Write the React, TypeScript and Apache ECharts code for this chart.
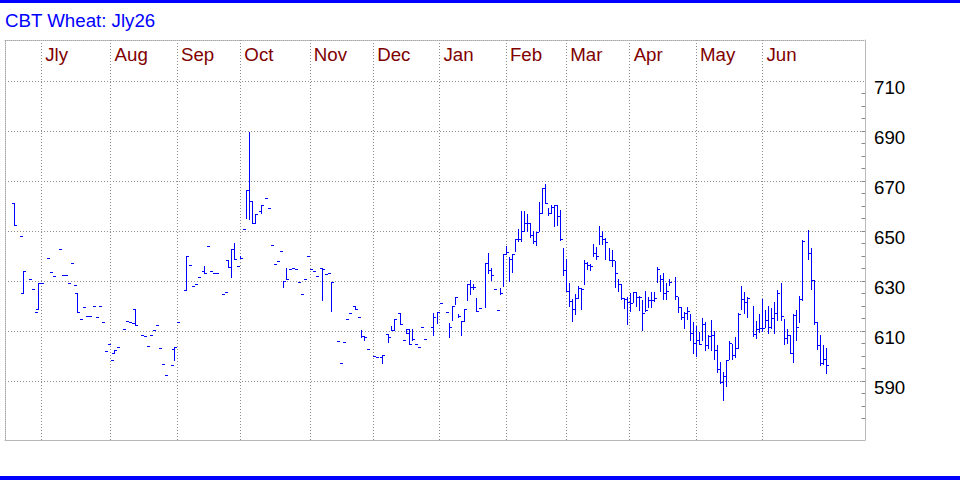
import { useEffect, useRef } from "react";
import * as echarts from "echarts";

const TITLE = "CBT Wheat: Jly26";
const monthNames = ["Jly", "Aug", "Sep", "Oct", "Nov", "Dec", "Jan", "Feb", "Mar", "Apr", "May", "Jun"];
const monthStartDay = [12, 35, 57, 78, 101, 122, 144, 166, 186, 207, 229, 251];
const slotCount = 286;
const priceMin = 566.4;
const priceMax = 726.4;
const priceTicks = [590, 610, 630, 650, 670, 690, 710];
const minorPriceTicks = [575, 580, 585, 590, 595, 600, 605, 610, 615, 620, 625, 630, 635, 640, 645, 650, 655, 660, 665, 670, 675, 680, 685, 690, 695, 700, 705];

const barDay = [
  3, 5, 6, 8, 9, 10, 11, 12, 14, 15,
  16, 18, 19, 20, 21, 22, 23, 24, 25, 26,
  27, 28, 29, 30, 31, 32, 33, 34, 35, 36,
  37, 39, 40, 41, 42, 43, 45, 46, 47, 48,
  49, 50, 51, 52, 53, 55, 56, 57, 60, 61,
  62, 63, 64, 66, 67, 68, 69, 70, 72, 73,
  74, 75, 76, 77, 78, 79, 80, 81, 82, 83,
  85, 86, 87, 88, 89, 90, 91, 92, 93, 94,
  95, 96, 97, 98, 99, 100, 101, 102, 103, 105,
  106, 107, 108, 110, 111, 112, 113, 114, 116, 117,
  118, 119, 120, 122, 123, 125, 127, 128, 129, 131,
  132, 133, 134, 135, 136, 137, 138, 139, 142, 143,
  144, 146, 147, 148, 149, 150, 151, 152, 153, 154,
  155, 156, 157, 159, 160, 161, 162, 163, 164, 165,
  166, 167, 168, 169, 170, 171, 172, 173, 174, 175,
  176, 177, 178, 179, 180, 181, 182, 183, 184, 185,
  186, 187, 188, 189, 190, 191, 192, 193, 194, 195,
  196, 197, 198, 199, 200, 201, 202, 203, 204, 205,
  206, 207, 208, 209, 210, 211, 212, 213, 214, 215,
  216, 217, 218, 219, 220, 222, 223, 224, 225, 226,
  227, 228, 229, 230, 231, 232, 233, 234, 235, 236,
  237, 238, 239, 240, 241, 242, 243, 244, 245, 246,
  248, 249, 250, 251, 252, 253, 254, 255, 256, 257,
  258, 259, 260, 261, 262, 263, 264, 266, 267, 268,
  269, 270, 271, 272,
];

const barHigh = [
  661, 648, 634, 630.7, 626.7, 617.5, 629.1, 629.1, 639.1, 633.5,
  631.9, 642.7, 632.3, 632.3, 629.1, 637.1, 628.3, 625.1, 614.7, 619.5,
  615.9, 615.9, 619.9, 615.5, 619.9, 613.5, 601.9, 604.7, 598.3, 602.3,
  603.5, 610.7, 613.9, 613.5, 613.1, 618.7, 608.3, 607.9, 603.9, 608.3,
  610.3, 612.3, 603.1, 596.7, 592.3, 596.3, 603.5, 613.5, 639.9, 636.3,
  627.9, 628.7, 631.5, 635.9, 643.9, 633.9, 633.1, 633.1, 624.7, 625.5,
  638.3, 642.7, 645.2, 636, 639.9, 650.7, 666.3, 689.7, 662, 656.7,
  660.3, 663.1, 659.1, 644.3, 636.7, 637.9, 641.9, 629.9, 635.1, 634.7,
  635.1, 634.7, 629.5, 624.8, 630.7, 639.9, 634.7, 633.9, 631.9, 635.1,
  632.7, 633.1, 629.5, 606, 597.1, 605.5, 614.7, 617.1, 619.9, 615.5,
  610.3, 607.9, 602.7, 599.9, 599.5, 600.3, 608.7, 611.9, 614.7, 617.1,
  606.3, 610.7, 610.7, 610.7, 604.7, 603.5, 611.5, 606.7, 617.1, 617.5,
  621.1, 617.5, 613.1, 619.9, 623.5, 616.7, 613.9, 618.7, 628.7, 630.3,
  628.7, 623.1, 619.1, 637.1, 641.1, 635.1, 626.7, 618.3, 627.1, 640.7,
  643.9, 639.5, 640.7, 646.7, 650.7, 657.9, 657.9, 656.7, 653.1, 649.9,
  649.5, 661.5, 667.1, 668.7, 659.1, 660.3, 660.3, 660.3, 658.3, 643.1,
  638.7, 629.1, 622.7, 624.7, 627.9, 627.1, 638.3, 637.5, 636.7, 644.7,
  643.5, 651.9, 649.9, 647.1, 643.1, 642.3, 637.9, 630.7, 628.7, 623.1,
  623.5, 625.1, 625.5, 625.5, 623.9, 622.3, 625.9, 623.5, 625.5, 625.5,
  635.5, 632.3, 633.1, 629.1, 630.7, 631.5, 623.5, 619.5, 617.5, 619.5,
  616.7, 613.5, 611.9, 609.5, 615.1, 613.5, 608.3, 614.3, 609.9, 604.3,
  597.5, 593.5, 598.3, 605.9, 604.7, 607.5, 617.1, 627.9, 625.5, 623.5,
  619.9, 613.9, 616.7, 622.7, 618.3, 619.9, 619.1, 621.5, 626.3, 629.1,
  614.7, 610.7, 608.3, 616.7, 618.3, 623.9, 646.3, 650.3, 643.1, 630.3,
  613.5, 608.3, 604.3, 603.1,
];

const barLow = [
  652.4, 648, 625.3, 630.7, 626.7, 617.5, 618.7, 629.1, 639.1, 633.5,
  631.9, 642.7, 632.3, 632.3, 629.1, 637.1, 628.3, 617.5, 614.7, 619.5,
  615.9, 615.9, 619.9, 615.5, 619.9, 613.5, 601.9, 604.7, 598.3, 601.1,
  603.5, 610.7, 613.9, 613.5, 613.1, 612.3, 608.3, 607.9, 603.9, 608.3,
  610.3, 612.3, 603.1, 596.7, 592.3, 596.3, 598.3, 613.5, 626.3, 636.3,
  627.9, 628.7, 631.5, 633.1, 643.9, 633.9, 633.1, 633.1, 624.7, 625.5,
  635.5, 631.7, 638.7, 636, 639.1, 650.7, 655, 654.9, 653.1, 653.1,
  657.1, 663.1, 659.1, 644.3, 636.7, 637.9, 641.9, 627.5, 630.7, 634.7,
  635.1, 634.7, 629.5, 624.8, 630.7, 639.9, 634.7, 633.9, 631.9, 622.4,
  632.7, 633.1, 618, 606, 597.1, 605.5, 614.7, 617.1, 618.7, 615.5,
  607.5, 606.3, 602.7, 599.9, 599.5, 597.1, 605.5, 610.3, 610.3, 612.7,
  606.3, 609.1, 604.7, 606.3, 604.7, 603.5, 611.5, 606.7, 608.3, 613.1,
  621.1, 617.5, 607.5, 614.3, 620.7, 615.5, 608.3, 613.9, 622.3, 624.7,
  626.7, 617.9, 619.1, 619.5, 633.1, 630.3, 626.7, 618.3, 624.7, 627.9,
  640.7, 629.9, 633.5, 641.9, 645.9, 645.9, 649.9, 649.9, 647.5, 645.1,
  644.3, 649.9, 657.1, 661.1, 656.3, 657.1, 651.9, 652.3, 646.3, 632.3,
  625.9, 619.9, 613.9, 616.7, 623.1, 618.7, 628.7, 634.7, 634.3, 639.9,
  638.7, 644.7, 644.7, 638.7, 638.3, 635.9, 627.5, 625.9, 622.7, 619.1,
  612.7, 617.9, 621.5, 619.9, 618.3, 610.3, 617.9, 619.5, 619.5, 621.9,
  629.5, 625.9, 622.7, 622.7, 628.3, 622.7, 617.5, 614.7, 611.1, 614.7,
  606.3, 601.1, 599.9, 604.7, 606.3, 602.3, 603.1, 602.3, 598.7, 593.5,
  589.1, 582.3, 587.9, 598.7, 598.7, 599.5, 603.1, 618.7, 617.1, 615.5,
  607.9, 607.1, 609.5, 609.9, 611.5, 609.1, 611.1, 609.1, 614.3, 614.3,
  604.7, 605.1, 601.1, 597.5, 606.3, 613.5, 622.3, 638.7, 626.7, 612.7,
  602.7, 596.3, 596.7, 593.1,
];

const barClose = [
  652.4, 648, 634, 630.7, 626.7, 617.5, 629.1, 629.1, 639.1, 633.5,
  631.9, 642.7, 632.3, 632.3, 629.1, 637.1, 628.3, 617.5, 614.7, 619.5,
  615.9, 615.9, 619.9, 615.5, 619.9, 613.5, 601.9, 604.7, 598.3, 602.3,
  603.5, 610.7, 613.9, 613.5, 613.1, 612.3, 608.3, 607.9, 603.9, 608.3,
  610.3, 612.3, 603.1, 596.7, 592.3, 596.3, 603.5, 613.5, 639.9, 636.3,
  627.9, 628.7, 631.5, 633.1, 643.9, 633.9, 633.1, 633.1, 624.7, 625.5,
  635.5, 642.7, 638.7, 636, 639.1, 650.7, 666.3, 662, 653.1, 656.7,
  660.3, 663.1, 659.1, 644.3, 636.7, 637.9, 641.9, 629.9, 630.7, 634.7,
  635.1, 634.7, 629.5, 624.8, 630.7, 639.9, 634.7, 633.9, 631.9, 634.7,
  632.7, 633.1, 629.5, 606, 597.1, 605.5, 614.7, 617.1, 618.7, 615.5,
  607.9, 607.5, 602.7, 599.9, 599.5, 600.3, 607.5, 610.3, 614.7, 612.7,
  606.3, 609.1, 604.7, 606.7, 604.7, 603.5, 611.5, 606.7, 615.5, 617.5,
  621.1, 617.5, 611.5, 619.9, 623.5, 616, 613.9, 618.7, 628.7, 627.5,
  627.5, 617.9, 619.1, 637.1, 634.3, 632.3, 626.7, 618.3, 625.1, 640.7,
  641.5, 638.7, 640.7, 646.7, 646.7, 650, 653.1, 653.1, 648.3, 645.9,
  649.5, 657.1, 667.1, 661.1, 657.1, 659.5, 660.3, 655.9, 646.7, 634.3,
  625.9, 621.9, 618.7, 623.1, 627.1, 626.7, 637.1, 636.3, 635.9, 641.1,
  639.9, 647.9, 646.7, 645.5, 638.3, 638.3, 633.1, 628.7, 623.1, 622.7,
  621.5, 621.1, 625.5, 623.5, 623.5, 617.1, 618.3, 622.3, 622.3, 623.1,
  634.7, 630.7, 625.1, 625.9, 629.5, 623.9, 619.5, 615.5, 617.1, 617.9,
  609.1, 605, 606.3, 604.7, 612.7, 604.3, 607.9, 608.3, 602.3, 594.7,
  589.5, 591.9, 598.3, 605.1, 600.3, 603.1, 616.7, 622.7, 621.5, 623.1,
  608.7, 610.7, 611.1, 611.1, 614.3, 611.5, 615.1, 617.1, 625.1, 615.9,
  607.1, 608.3, 601.1, 616.3, 611.5, 622.7, 645.9, 641.3, 630.3, 613.5,
  604.3, 597.1, 598.7, 596.3,
];

// opening prices, only on the days where the left tick is visible
const openDay = [3, 6, 11, 24, 36, 43, 56, 60, 66, 74, 83, 85, 105, 116, 125, 127, 131, 134, 142];
const openValue = [661, 625.3, 618.7, 625.1, 601.1, 618.7, 602.7, 626.3, 633.9, 638.3, 653.1, 657.9, 635.1, 619.9, 599.5, 608.7, 617.1, 610.7, 611.5];

const FONT = '"Liberation Sans", Arial, Helvetica, sans-serif';
const BLUE = "#0000ff";
const GRID_LEFT = 5;
const GRID_RIGHT = 95;
const GRID_TOP = 40;
const GRID_BOTTOM = 40;
const WIDTH = 960;
const HEIGHT = 480;

export default function App() {
  const ref = useRef<HTMLDivElement>(null);

  useEffect(() => {
    if (!ref.current) return;
    const chart = echarts.init(ref.current, null, { renderer: "svg" });

    const categories = Array.from({ length: slotCount }, (_, i) => String(i));
    const openMap = new Map<number, number>();
    openDay.forEach((d, k) => openMap.set(d, openValue[k]));
    const monthLabel = new Map<number, string>();
    monthStartDay.forEach((d, k) => monthLabel.set(d, monthNames[k]));

    const data = barDay.map((d, k) => [d, barHigh[k], barLow[k], barClose[k]]);

    const renderBar = (params: any, api: any) => {
      const day = api.value(0);
      const hi = api.coord([day, api.value(1)]);
      const lo = api.coord([day, api.value(2)]);
      const cl = api.coord([day, api.value(3)]);
      const x = Math.round(hi[0]) + 0.5;
      const yH = Math.round(hi[1]);
      const yL = Math.round(lo[1]);
      const yC = Math.round(cl[1]) + 0.5;
      const style = { stroke: BLUE, lineWidth: 1, fill: null };
      const children: any[] = [
        { type: "line", shape: { x1: x, y1: yH, x2: x, y2: yL + 1 }, style },
        { type: "line", shape: { x1: x - 0.5, y1: yC, x2: x + 2.5, y2: yC }, style },
      ];
      const dd = barDay[params.dataIndex];
      if (openMap.has(dd)) {
        const yO = Math.round(api.coord([day, openMap.get(dd)])[1]) + 0.5;
        children.push({ type: "line", shape: { x1: x - 2.5, y1: yO, x2: x + 0.5, y2: yO }, style });
      }
      return { type: "group", children };
    };

    const isMonth = (i: number) => monthLabel.has(i);

    const baseGraphic: any[] = [
      { id: "topRule", type: "rect", shape: { x: 0, y: 0, width: WIDTH, height: 3 }, style: { fill: BLUE }, silent: true },
      { id: "bottomRule", type: "rect", shape: { x: 0, y: 476, width: WIDTH, height: 4 }, style: { fill: BLUE }, silent: true },
      {
        id: "title",
        type: "text",
        x: 5,
        y: 20.8,
        style: { text: TITLE, fill: BLUE, fontSize: 18.7, fontFamily: FONT, verticalAlign: "middle", align: "left" },
        silent: true,
      },
    ];

    chart.setOption({
      animation: false,
      textStyle: { fontFamily: FONT },
      grid: { left: GRID_LEFT, right: GRID_RIGHT, top: GRID_TOP, bottom: GRID_BOTTOM, containLabel: false },
      xAxis: [
        {
          type: "category",
          data: categories,
          boundaryGap: false,
          position: "top",
          axisLine: { show: true, onZero: false, lineStyle: { color: "#a8a8a8", width: 1, type: [1, 1] } },
          axisTick: { show: false },
          axisLabel: {
            show: true,
            inside: true,
            interval: (i: number) => isMonth(i),
            formatter: (v: string) => monthLabel.get(Number(v)) ?? "",
            color: "#800000",
            fontSize: 18.7,
            fontFamily: FONT,
            align: "left",
            margin: 5,
            padding: [0, 0, 0, 4],
          },
          splitLine: {
            show: true,
            interval: (i: number) => isMonth(i),
            lineStyle: { color: "#8c8c8c", width: 1, type: [1, 2] },
          },
        },
        {
          type: "category",
          data: categories,
          boundaryGap: false,
          position: "bottom",
          axisLine: { show: true, onZero: false, lineStyle: { color: "#b8b8b8", width: 1 } },
          axisTick: { show: false },
          axisLabel: { show: false },
          splitLine: { show: false },
        },
      ],
      yAxis: [
        {
          type: "value",
          min: priceMin,
          max: priceMax,
          position: "right",
          axisLine: { show: true, onZero: false, lineStyle: { color: "#b8b8b8", width: 1 } },
          axisTick: { show: false, customValues: priceTicks },
          axisLabel: {
            show: true,
            customValues: priceTicks,
            color: "#000000",
            fontSize: 18.7,
            fontFamily: FONT,
            margin: 9,
            verticalAlign: "top",
            lineHeight: 13.6,
          },
          splitLine: { show: true, lineStyle: { color: "#8c8c8c", width: 1, type: [1, 2] } },
        },
        {
          type: "value",
          min: priceMin,
          max: priceMax,
          position: "left",
          axisLine: { show: true, onZero: false, lineStyle: { color: "#a8a8a8", width: 1, type: [1, 1] } },
          axisTick: { show: false },
          axisLabel: { show: false },
          splitLine: { show: false },
        },
      ],
      series: [
        {
          type: "custom",
          name: "Jly26",
          xAxisIndex: 0,
          yAxisIndex: 0,
          renderItem: renderBar,
          data,
          encode: { x: 0, y: [1, 2, 3] },
          clip: true,
          silent: true,
          z: 2,
        },
      ],
      graphic: baseGraphic,
    });

    // small inward ticks every 5 cents on the right price axis, placed through the axis scale
    const axisX = WIDTH - GRID_RIGHT;
    const tickEls = minorPriceTicks.map((v, k) => {
      const py = chart.convertToPixel({ yAxisIndex: 0 }, v) as number;
      const y = Math.round(py) + 0.5;
      return {
        id: "minorTick" + k,
        type: "polyline",
        shape: { points: [[axisX - 3.5, y], [axisX, y]] },
        style: { stroke: "#888888", lineWidth: 1, fill: "none" },
        silent: true,
        z: 100,
      };
    });
    chart.setOption({ graphic: [...baseGraphic, ...tickEls] });

    return () => chart.dispose();
  }, []);

  return (
    <div
      ref={ref}
      style={{ position: "absolute", left: 0, top: 0, width: WIDTH, height: HEIGHT, background: "#ffffff" }}
    />
  );
}
